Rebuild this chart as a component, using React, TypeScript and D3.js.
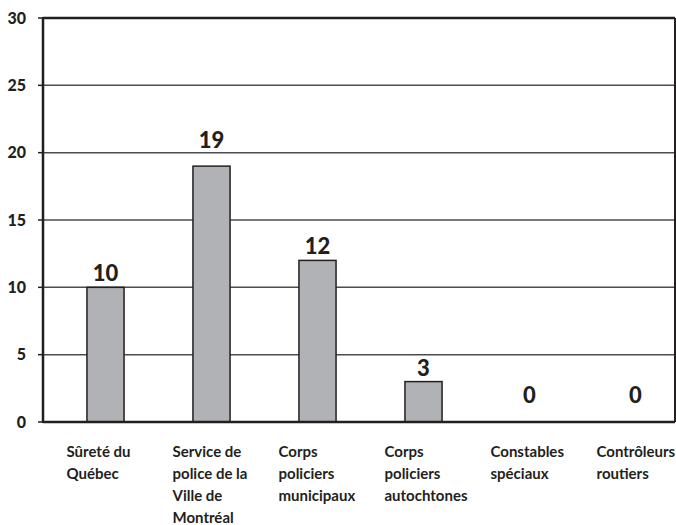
import React from 'react';
import * as d3 from 'd3';

// categories (label lines) and values
const categories = [
  ['Sûreté du', 'Québec'],
  ['Service de', 'police de la', 'Ville de', 'Montréal'],
  ['Corps', 'policiers', 'municipaux'],
  ['Corps', 'policiers', 'autochtones'],
  ['Constables', 'spéciaux'],
  ['Contrôleurs', 'routiers'],
];
const values = [10, 19, 12, 3, 0, 0];
const yTicks = [0, 5, 10, 15, 20, 25, 30];

const W = 676;
const H = 525;
const left = 43;
const right = 675;
const top = 18;
const bottom = 422;
const font = 'Lato, "Open Sans", sans-serif';
const dark = '#231f20';

const App = () => {
  const keys = categories.map((c) => c.join(' '));
  const x = d3.scaleBand().domain(keys).range([52.5, 688.5]).paddingInner(0.65).paddingOuter(0.325);
  const y = d3.scaleLinear().domain([0, 30]).range([bottom, top]);
  const cx = (i: number) => (x(keys[i]) as number) + x.bandwidth() / 2;

  // value label baseline; lifted above a gridline when it would cross it
  const labelY = (v: number) => {
    if (v === 0) return y(0) - 19;
    let b = y(v) - 6;
    const hit = yTicks.find((t) => t > 0 && y(t) < b && y(t) > b - 17);
    if (hit !== undefined) b = y(hit) - 5;
    return b;
  };

  return (
    <svg width={W} height={H} style={{ position: 'absolute', left: 0, top: 0 }}>
      <rect width={W} height={H} fill="#fff" />
      {/* gridlines */}
      {yTicks.filter((t) => t > 0 && t < 30).map((t) => (
        <line key={t} x1={left} x2={right} y1={y(t)} y2={y(t)} stroke="#4d4d4f" strokeWidth={1.5} />
      ))}
      {/* ticks + labels */}
      {yTicks.map((t) => (
        <g key={'t' + t}>
          <line x1={38} x2={left} y1={y(t)} y2={y(t)} stroke={dark} strokeWidth={1.5} />
          <text x={26} y={y(t)} dy="0.36em" textAnchor="end" fontFamily={font} fontWeight={900} fontSize={16} fill={dark}>
            {t}
          </text>
        </g>
      ))}
      {/* bars */}
      {values.map((v, i) =>
        v > 0 ? (
          <rect
            key={i}
            x={x(keys[i])}
            y={y(v)}
            width={x.bandwidth()}
            height={y(0) - y(v)}
            fill="#b1b2b5"
            stroke={dark}
            strokeWidth={1.5}
          />
        ) : null
      )}
      {/* frame */}
      <line x1={left} x2={right} y1={top} y2={top} stroke={dark} strokeWidth={2.5} />
      <line x1={right} x2={right} y1={top} y2={bottom} stroke={dark} strokeWidth={2} />
      <line x1={left} x2={left} y1={top - 1} y2={bottom + 1} stroke={dark} strokeWidth={2.5} />
      <line x1={left} x2={right} y1={bottom} y2={bottom} stroke={dark} strokeWidth={2.5} />
      {/* value labels */}
      {values.map((v, i) => (
        <text
          key={'v' + i}
          x={cx(i)}
          y={labelY(v)}
          textAnchor="middle"
          fontFamily={font}
          fontWeight={900}
          fontSize={22}
          fill={dark}
        >
          {v}
        </text>
      ))}
      {/* category labels */}
      {categories.map((lines, i) => (
        <text key={'c' + i} y={457} fontFamily={font} fontWeight="bold" fontSize={15} fill={dark}>
          {lines.map((l, j) => (
            <tspan key={j} x={cx(i) - 39} dy={j === 0 ? 0 : 22}>
              {l}
            </tspan>
          ))}
        </text>
      ))}
    </svg>
  );
};

export default App;
